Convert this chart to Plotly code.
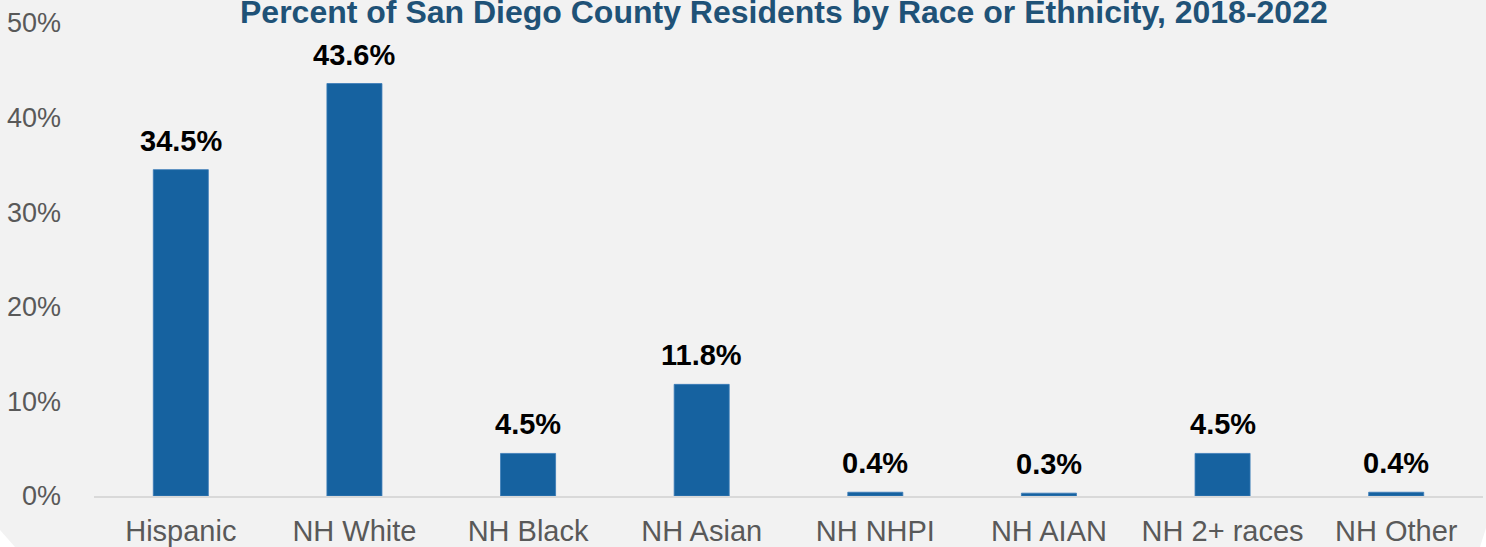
import plotly.graph_objects as go

# Share of San Diego County residents by race/ethnicity, 2018-2022
categories = ["Hispanic", "NH White", "NH Black", "NH Asian", "NH NHPI",
              "NH AIAN", "NH 2+ races", "NH Other"]
percents = [34.5, 43.6, 4.5, 11.8, 0.4, 0.3, 4.5, 0.4]
y_ticks = [0, 10, 20, 30, 40, 50]
y_tick_labels = ["0%", "10%", "20%", "30%", "40%", "50%"]

W, H = 1486, 547
ML, MR, MT, MB = 94, 3, 23, 51
PW, PH = W - ML - MR, H - MT - MB

BAR = "#1662a0"
BG = "#f2f2f2"
TXT = "#595959"
FONT = "Liberation Sans, Arial, sans-serif"


def px_to_paper(px, py):
    return (px - ML) / PW, (H - MB - py) / PH


fig = go.Figure(
    go.Bar(
        x=categories,
        y=percents,
        marker=dict(color=BAR, line=dict(color="#3a7bb8", width=0.8)),
        hoverinfo="x+y",
    )
)

# value labels above each bar
for cat, val in zip(categories, percents):
    fig.add_annotation(
        x=cat, y=val, text=f"<b>{val:.1f}%</b>",
        showarrow=False, yanchor="bottom", yshift=11,
        font=dict(family=FONT, size=29, color="#000000"),
    )

# chart title, placed in pixel terms above the plot area
tx, _ = px_to_paper(783.5, 0)
fig.add_annotation(
    x=tx, y=1, xref="paper", yref="paper", yanchor="bottom", xanchor="center",
    yshift=-9, showarrow=False,
    text="<b>Percent of San Diego County Residents by Race or Ethnicity, 2018-2022</b>",
    font=dict(family=FONT, size=32, color="#1f5277"),
)

# white cut-outs at the lower corners of the panel
bl = [px_to_paper(0, 530), px_to_paper(15, H), px_to_paper(0, H)]
br = [px_to_paper(1480, H), px_to_paper(W, 528), px_to_paper(W, H)]
for pts in (bl, br):
    path = "M " + " L ".join(f"{x},{y}" for x, y in pts) + " Z"
    fig.add_shape(type="path", path=path, xref="paper", yref="paper",
                  fillcolor="white", line=dict(width=0), layer="above")

fig.update_layout(
    width=W, height=H,
    margin=dict(l=ML, r=MR, t=MT, b=MB, pad=0, autoexpand=False),
    paper_bgcolor=BG, plot_bgcolor=BG,
    bargap=0.683,
    showlegend=False,
    xaxis=dict(
        showgrid=False, showline=True, linecolor="#d9d9d9", linewidth=2,
        ticks="", ticklabelstandoff=8, automargin=False,
        tickfont=dict(family=FONT, size=29, color=TXT),
        fixedrange=True,
    ),
    yaxis=dict(
        range=[0, 50], tickvals=y_ticks, ticktext=y_tick_labels,
        showgrid=False, zeroline=False, showline=False,
        ticks="", ticklabelstandoff=32, automargin=False,
        tickfont=dict(family=FONT, size=27, color=TXT),
        fixedrange=True,
    ),
)

fig.write_html("out.html")
